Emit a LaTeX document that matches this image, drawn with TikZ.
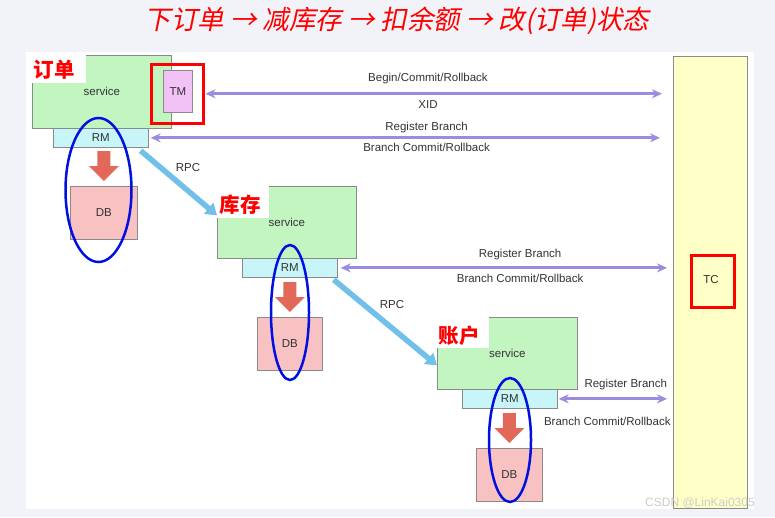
\documentclass[tikz,border=0pt]{standalone}
\usepackage{fontspec}
\setmainfont{Liberation Sans}
\newfontfamily\cjk{Noto Sans CJK SC}
\newfontfamily\cjkit{Noto Sans CJK SC}[FakeSlant=0.2]
\usetikzlibrary{arrows.meta,shapes.geometric}
\definecolor{bgc}{HTML}{F2F3F8}
\definecolor{svcg}{HTML}{C2F5C0}
\definecolor{rmc}{HTML}{C8F6F8}
\definecolor{tmc}{HTML}{F2C2F6}
\definecolor{dbc}{HTML}{F8C2C2}
\definecolor{tcy}{HTML}{FFFFC8}
\definecolor{purp}{HTML}{9A8CE0}
\definecolor{rpcb}{HTML}{70C0EA}
\definecolor{darrc}{HTML}{E2685A}
\definecolor{txt}{HTML}{333333}
\definecolor{bord}{HTML}{8A8A8A}
\definecolor{ellb}{HTML}{0010E0}
\newcommand\blockarrow[1]{%
  \fill[darrc] ([yshift=5pt]#1.north) -- ++(-15,-15) -- ++(8.5,0) -- ++(0,-15) -- ++(13,0) -- ++(0,15) -- ++(8.5,0) -- cycle;}
\begin{document}
\begin{tikzpicture}[x=1pt,y=-1pt,
  box/.style={draw=bord,line width=0.7pt,inner sep=0pt,anchor=north west,
    font=\fontsize{11.5}{11.5}\selectfont,text=txt},
  svc/.style={box,fill=svcg},
  rmb/.style={box,fill=rmc},
  tmb/.style={box,fill=tmc},
  dbb/.style={box,fill=dbc},
  redbox/.style={draw=red,line width=2.5pt,inner sep=0pt,anchor=north west},
  ell/.style={ellipse,draw=ellb,line width=2.5pt,inner sep=0pt},
  cnlab/.style={fill=white,inner sep=0pt,anchor=north west},
  cntext/.style={font=\cjk\bfseries\fontsize{20.5}{20.5}\selectfont,text=red,inner sep=0pt},
  lab/.style={font=\fontsize{11.5}{11.5}\selectfont,text=txt,inner sep=0pt},
  hline/.style={purp,line width=3pt,{Stealth[length=10pt,width=9pt]}-{Stealth[length=10pt,width=9pt]}},
  rpc/.style={rpcb,line width=5.5pt,-{Triangle[length=11pt,width=14pt]}}
]
\useasboundingbox (0,0) rectangle (775,517);
\fill[bgc] (0,0) rectangle (775,517);
\fill[white] (26,52) rectangle (754,509);

\node[font=\cjkit\fontsize{26.5}{26.5}\selectfont,text=red,inner sep=0pt] (title) at (397,21) {下订单 → 减库存 → 扣余额 → 改(订单)状态};

% TC
\node[box,draw=bord,fill=tcy,minimum width=74,minimum height=452] (tc) at (673,56) {};
\node[redbox,minimum width=43,minimum height=52] (tcr) at (690,254) {};
\node[lab] (tct) at (711,280) {TC};

% order
\node[svc,minimum width=139,minimum height=73] (s1) at (32,55) {service};
\node[cnlab,minimum width=54,minimum height=28] (l1) at (32,55) {};
\node[cntext] (t1) at (54,70) {订单};
\node[tmb,minimum width=29,minimum height=42] (tm) at (163,70) {TM};
\node[redbox,minimum width=52,minimum height=59] (tmr) at (150,63) {};
\node[rmb,minimum width=95,minimum height=19] (rm1) at (53,128) {RM};
\node[dbb,minimum width=67,minimum height=53] (db1) at (70,186) {DB};
\blockarrow{db1}
\node[ell,minimum width=66,minimum height=144] (e1) at (98.5,190) {};

% stock
\node[svc,minimum width=139,minimum height=72] (s2) at (217,186) {service};
\node[cnlab,minimum width=52,minimum height=33] (l2) at (217,185) {};
\node[cntext] (t2) at (240,205) {库存};
\node[rmb,minimum width=95,minimum height=19] (rm2) at (242,258) {RM};
\node[dbb,minimum width=65,minimum height=53] (db2) at (257,317) {DB};
\blockarrow{db2}
\node[ell,minimum width=38,minimum height=135] (e2) at (290,312.5) {};

% account
\node[svc,minimum width=140,minimum height=72] (s3) at (437,317) {service};
\node[cnlab,minimum width=52,minimum height=33] (l3) at (437,315) {};
\node[cntext] (t3) at (459,336) {账户};
\node[rmb,minimum width=95,minimum height=19] (rm3) at (462,389) {RM};
\node[dbb,minimum width=66,minimum height=53] (db3) at (476,448) {DB};
\blockarrow{db3}
\node[ell,minimum width=42,minimum height=124] (e3) at (510,440) {};

% horizontal arrows
\draw[hline,shorten <=1pt,shorten >=11pt] (tmr.east) -- (tmr.east -| tc.west)
  node[lab,pos=0.477,yshift=15pt] (a1u) {Begin/Commit/Rollback}
  node[lab,pos=0.477,yshift=-11pt] (a1d) {XID};
\draw[hline,shorten <=2pt,shorten >=13pt] (rm1.east) -- (rm1.east -| tc.west)
  node[lab,pos=0.53,yshift=10pt] (a2u) {Register Branch}
  node[lab,pos=0.53,yshift=-10pt] (a2d) {Branch Commit/Rollback};
\draw[hline,shorten <=3pt,shorten >=6pt] (rm2.east) -- (rm2.east -| tc.west)
  node[lab,pos=0.544,yshift=13pt] (a3u) {Register Branch}
  node[lab,pos=0.544,yshift=-11pt] (a3d) {Branch Commit/Rollback};
\draw[hline,shorten <=1pt,shorten >=6pt] (rm3.east) -- (rm3.east -| tc.west)
  node[lab,pos=0.59,yshift=14pt] (a4u) {Register Branch}
  node[lab,pos=0.43,yshift=-23pt] (a4d) {Branch Commit/Rollback};

% RPC
\draw[rpc] ([xshift=-8pt,yshift=-3pt]rm1.south east) -- ([yshift=7pt]s2.west);
\node[lab] (r1) at (188,168) {RPC};
\draw[rpc] ([xshift=-4pt,yshift=-2pt]rm2.south east) -- ([yshift=-12pt]s3.west);
\node[lab] (r2) at (392,305) {RPC};

\node[font=\fontsize{12}{12}\selectfont,text=black!20,inner sep=0pt] (wm) at (700,503) {CSDN @LinKai0305};
\end{tikzpicture}
\end{document}
